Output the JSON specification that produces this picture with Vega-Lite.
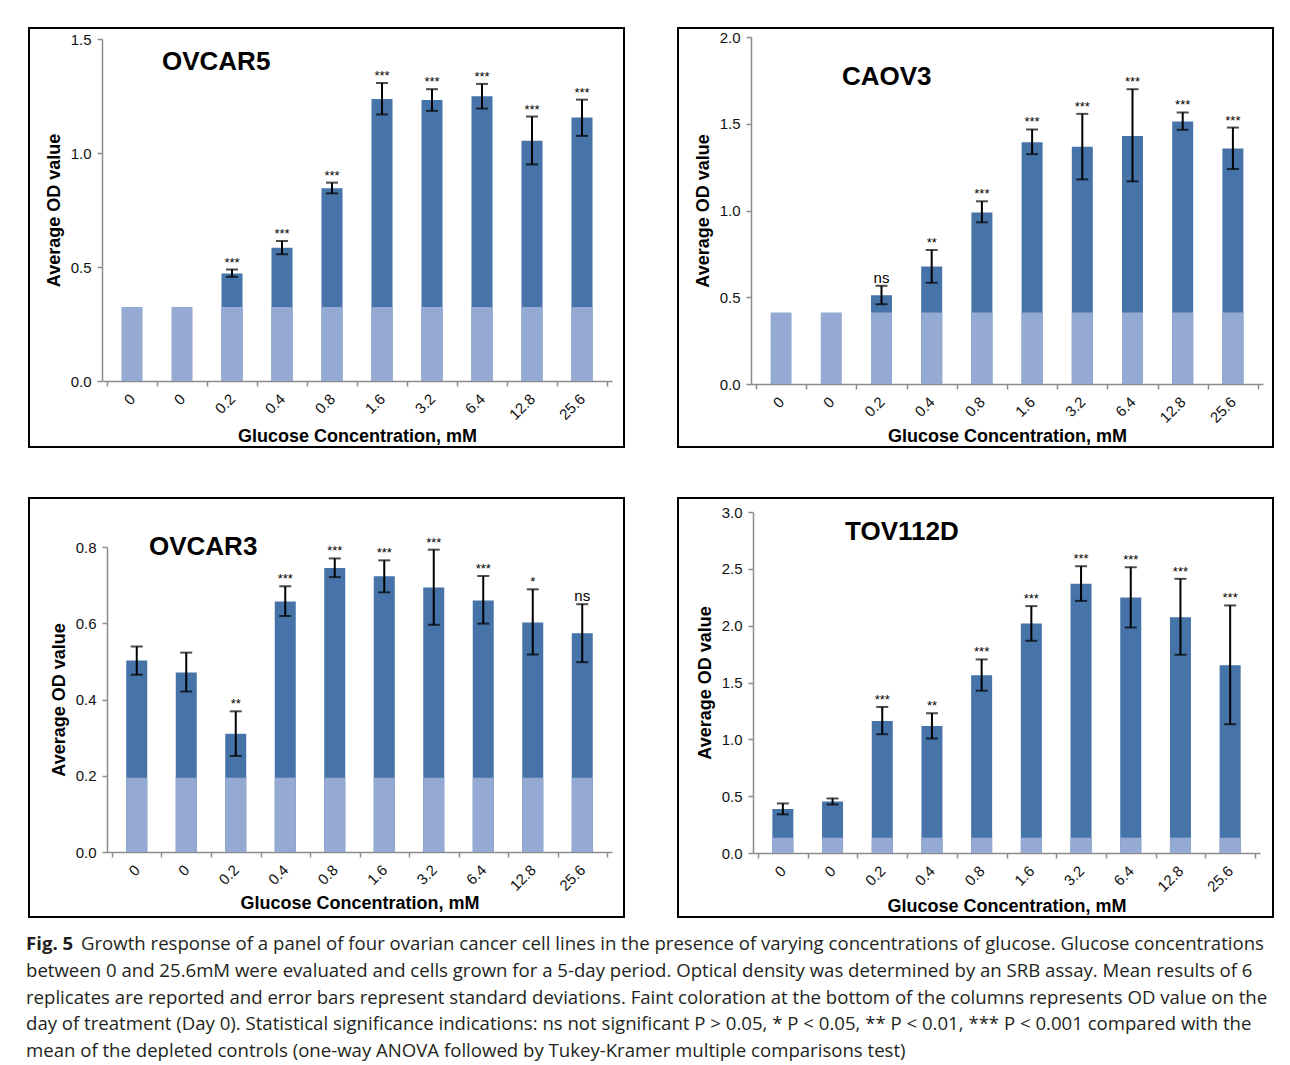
{
  "$schema": "https://vega.github.io/schema/vega-lite/v6.json",
  "padding": {"left": 26, "top": 27, "right": 0, "bottom": 0},
  "background": "white",
  "config": {
    "view": {"stroke": "black", "strokeWidth": 2},
    "font": "Liberation Sans",
    "title": {"font": "Liberation Sans", "fontSize": 26, "fontWeight": "bold", "color": "black", "anchor": "start", "frame": "group", "offset": 0, "baseline": "middle"}
  },
  "datasets": {
    "ovcar5": [
      {"idx": 1, "conc": "0", "mean": null, "lo": null, "hi": null, "day0": 0.325, "sig": ""},
      {"idx": 2, "conc": "0", "mean": null, "lo": null, "hi": null, "day0": 0.325, "sig": ""},
      {"idx": 3, "conc": "0.2", "mean": 0.471, "lo": 0.457, "hi": 0.489, "day0": 0.325, "sig": "***"},
      {"idx": 4, "conc": "0.4", "mean": 0.584, "lo": 0.556, "hi": 0.614, "day0": 0.325, "sig": "***"},
      {"idx": 5, "conc": "0.8", "mean": 0.845, "lo": 0.823, "hi": 0.870, "day0": 0.325, "sig": "***"},
      {"idx": 6, "conc": "1.6", "mean": 1.237, "lo": 1.169, "hi": 1.307, "day0": 0.325, "sig": "***"},
      {"idx": 7, "conc": "3.2", "mean": 1.233, "lo": 1.185, "hi": 1.280, "day0": 0.325, "sig": "***"},
      {"idx": 8, "conc": "6.4", "mean": 1.249, "lo": 1.195, "hi": 1.303, "day0": 0.325, "sig": "***"},
      {"idx": 9, "conc": "12.8", "mean": 1.054, "lo": 0.950, "hi": 1.160, "day0": 0.325, "sig": "***"},
      {"idx": 10, "conc": "25.6", "mean": 1.156, "lo": 1.075, "hi": 1.234, "day0": 0.325, "sig": "***"}
    ],
    "caov3": [
      {"idx": 1, "conc": "0", "mean": null, "lo": null, "hi": null, "day0": 0.412, "sig": ""},
      {"idx": 2, "conc": "0", "mean": null, "lo": null, "hi": null, "day0": 0.412, "sig": ""},
      {"idx": 3, "conc": "0.2", "mean": 0.512, "lo": 0.460, "hi": 0.566, "day0": 0.412, "sig": "ns"},
      {"idx": 4, "conc": "0.4", "mean": 0.677, "lo": 0.583, "hi": 0.773, "day0": 0.412, "sig": "**"},
      {"idx": 5, "conc": "0.8", "mean": 0.989, "lo": 0.932, "hi": 1.053, "day0": 0.412, "sig": "***"},
      {"idx": 6, "conc": "1.6", "mean": 1.394, "lo": 1.325, "hi": 1.467, "day0": 0.412, "sig": "***"},
      {"idx": 7, "conc": "3.2", "mean": 1.367, "lo": 1.179, "hi": 1.557, "day0": 0.412, "sig": "***"},
      {"idx": 8, "conc": "6.4", "mean": 1.430, "lo": 1.168, "hi": 1.699, "day0": 0.412, "sig": "***"},
      {"idx": 9, "conc": "12.8", "mean": 1.513, "lo": 1.465, "hi": 1.565, "day0": 0.412, "sig": "***"},
      {"idx": 10, "conc": "25.6", "mean": 1.358, "lo": 1.239, "hi": 1.478, "day0": 0.412, "sig": "***"}
    ],
    "ovcar3": [
      {"idx": 1, "conc": "0", "mean": 0.502, "lo": 0.465, "hi": 0.539, "day0": 0.195, "sig": ""},
      {"idx": 2, "conc": "0", "mean": 0.471, "lo": 0.421, "hi": 0.523, "day0": 0.195, "sig": ""},
      {"idx": 3, "conc": "0.2", "mean": 0.310, "lo": 0.252, "hi": 0.369, "day0": 0.195, "sig": "**"},
      {"idx": 4, "conc": "0.4", "mean": 0.657, "lo": 0.619, "hi": 0.697, "day0": 0.195, "sig": "***"},
      {"idx": 5, "conc": "0.8", "mean": 0.745, "lo": 0.721, "hi": 0.770, "day0": 0.195, "sig": "***"},
      {"idx": 6, "conc": "1.6", "mean": 0.723, "lo": 0.681, "hi": 0.765, "day0": 0.195, "sig": "***"},
      {"idx": 7, "conc": "3.2", "mean": 0.694, "lo": 0.596, "hi": 0.793, "day0": 0.195, "sig": "***"},
      {"idx": 8, "conc": "6.4", "mean": 0.660, "lo": 0.599, "hi": 0.724, "day0": 0.195, "sig": "***"},
      {"idx": 9, "conc": "12.8", "mean": 0.602, "lo": 0.518, "hi": 0.689, "day0": 0.195, "sig": "*"},
      {"idx": 10, "conc": "25.6", "mean": 0.574, "lo": 0.498, "hi": 0.650, "day0": 0.195, "sig": "ns"}
    ],
    "tov112d": [
      {"idx": 1, "conc": "0", "mean": 0.386, "lo": 0.340, "hi": 0.436, "day0": 0.135, "sig": ""},
      {"idx": 2, "conc": "0", "mean": 0.454, "lo": 0.427, "hi": 0.480, "day0": 0.135, "sig": ""},
      {"idx": 3, "conc": "0.2", "mean": 1.162, "lo": 1.045, "hi": 1.285, "day0": 0.135, "sig": "***"},
      {"idx": 4, "conc": "0.4", "mean": 1.118, "lo": 1.007, "hi": 1.229, "day0": 0.135, "sig": "**"},
      {"idx": 5, "conc": "0.8", "mean": 1.563, "lo": 1.428, "hi": 1.703, "day0": 0.135, "sig": "***"},
      {"idx": 6, "conc": "1.6", "mean": 2.020, "lo": 1.867, "hi": 2.172, "day0": 0.135, "sig": "***"},
      {"idx": 7, "conc": "3.2", "mean": 2.368, "lo": 2.218, "hi": 2.523, "day0": 0.135, "sig": "***"},
      {"idx": 8, "conc": "6.4", "mean": 2.248, "lo": 1.984, "hi": 2.514, "day0": 0.135, "sig": "***"},
      {"idx": 9, "conc": "12.8", "mean": 2.075, "lo": 1.744, "hi": 2.412, "day0": 0.135, "sig": "***"},
      {"idx": 10, "conc": "25.6", "mean": 1.651, "lo": 1.133, "hi": 2.178, "day0": 0.135, "sig": "***"}
    ],
    "caption": [
      {"line": 1, "lead": "Fig. 5", "text": "Growth response of a panel of four ovarian cancer cell lines in the presence of varying concentrations of glucose. Glucose concentrations"},
      {"line": 2, "lead": "", "text": "between 0 and 25.6mM were evaluated and cells grown for a 5-day period. Optical density was determined by an SRB assay. Mean results of 6"},
      {"line": 3, "lead": "", "text": "replicates are reported and error bars represent standard deviations. Faint coloration at the bottom of the columns represents OD value on the"},
      {"line": 4, "lead": "", "text": "day of treatment (Day 0). Statistical significance indications: ns not significant P > 0.05, * P < 0.05, ** P < 0.01, *** P < 0.001 compared with the"},
      {"line": 5, "lead": "", "text": "mean of the depleted controls (one-way ANOVA followed by Tukey-Kramer multiple comparisons test)"}
    ]
  },
  "vconcat": [
    {
      "spacing": 49,
      "vconcat": [
        {
          "spacing": 52,
          "hconcat": [
            {
              "width": 595, "height": 419,
              "title": {"text": "OVCAR5", "dx": 133, "dy": 51},
              "data": {"name": "ovcar5"},
              "encoding": {
                "x": {"field": "idx", "type": "quantitative", "title": "Glucose Concentration, mM",
                  "scale": {"domain": [0.5, 10.5], "range": [73, 583], "nice": false, "zero": false},
                  "axis": {"values": [0.5, 1, 1.5, 2, 2.5, 3, 3.5, 4, 4.5, 5, 5.5, 6, 6.5, 7, 7.5, 8, 8.5, 9, 9.5, 10, 10.5],
                    "labelExpr": "datum.value % 1 === 0 ? ['0','0','0.2','0.4','0.8','1.6','3.2','6.4','12.8','25.6'][datum.value - 1] : ''",
                    "tickOpacity": {"condition": {"test": "datum.value % 1 === 0", "value": 0}, "value": 1},
                    "offset": -66, "grid": false, "labelAngle": -45, "labelAlign": "right", "labelBaseline": "middle",
                    "labelFlush": false, "labelOverlap": false, "labelBound": false,
                    "labelFont": "Liberation Sans", "labelFontSize": 15, "labelColor": "#111111", "labelPadding": 10,
                    "tickSize": 5, "tickColor": "#8c8c8c", "tickWidth": 1.5, "domainColor": "#8c8c8c", "domainWidth": 1.5,
                    "titleFont": "Liberation Sans", "titleFontSize": 18, "titleFontWeight": "bold", "titleColor": "black", "titlePadding": 5}}
              },
              "layer": [
                {"mark": {"type": "bar", "width": 21, "color": "#4673A8"},
                 "encoding": {"y": {"field": "mean", "type": "quantitative", "title": "Average OD value",
                   "scale": {"domain": [0, 1.5], "range": [353, 11], "nice": false, "zero": true},
                   "axis": {"values": [0, 0.5, 1, 1.5], "format": ".1f", "offset": -73, "grid": false, "labelFlush": false,
                     "domainColor": "#8c8c8c", "domainWidth": 1.5, "tickColor": "#8c8c8c", "tickWidth": 1.5, "tickSize": 5,
                     "labelFont": "Liberation Sans", "labelFontSize": 15, "labelColor": "#111111", "labelPadding": 6,
                     "titleFont": "Liberation Sans", "titleFontSize": 18, "titleFontWeight": "bold", "titleColor": "black", "titlePadding": 7}}}},
                {"mark": {"type": "bar", "width": 21, "color": "#95AAD2"},
                 "encoding": {"y": {"field": "day0", "type": "quantitative", "title": "Average OD value"}}},
                {"transform": [{"filter": "datum.hi != null"}], "mark": {"type": "rule", "color": "black", "strokeWidth": 2},
                 "encoding": {"y": {"field": "lo", "type": "quantitative", "title": "Average OD value"}, "y2": {"field": "hi"}}},
                {"transform": [{"filter": "datum.hi != null"}], "mark": {"type": "tick", "orient": "horizontal", "size": 12, "thickness": 2, "color": "black"},
                 "encoding": {"y": {"field": "lo", "type": "quantitative", "title": "Average OD value"}}},
                {"transform": [{"filter": "datum.hi != null"}], "mark": {"type": "tick", "orient": "horizontal", "size": 12, "thickness": 2, "color": "black"},
                 "encoding": {"y": {"field": "hi", "type": "quantitative", "title": "Average OD value"}}},
                {"transform": [{"filter": "datum.hi != null"}], "mark": {"type": "text", "baseline": "alphabetic", "dy": -3, "color": "black", "font": "Liberation Sans"},
                 "encoding": {"y": {"field": "hi", "type": "quantitative", "title": "Average OD value"}, "text": {"field": "sig"},
                   "size": {"condition": {"test": "datum.sig === 'ns'", "value": 15}, "value": 13}}}
              ]
            },
            {
              "width": 595, "height": 419,
              "title": {"text": "CAOV3", "dx": 164, "dy": 66},
              "data": {"name": "caov3"},
              "encoding": {
                "x": {"field": "idx", "type": "quantitative", "title": "Glucose Concentration, mM",
                  "scale": {"domain": [0.5, 10.5], "range": [73, 585], "nice": false, "zero": false},
                  "axis": {"values": [0.5, 1, 1.5, 2, 2.5, 3, 3.5, 4, 4.5, 5, 5.5, 6, 6.5, 7, 7.5, 8, 8.5, 9, 9.5, 10, 10.5],
                    "labelExpr": "datum.value % 1 === 0 ? ['0','0','0.2','0.4','0.8','1.6','3.2','6.4','12.8','25.6'][datum.value - 1] : ''",
                    "tickOpacity": {"condition": {"test": "datum.value % 1 === 0", "value": 0}, "value": 1},
                    "offset": -63, "grid": false, "labelAngle": -45, "labelAlign": "right", "labelBaseline": "middle",
                    "labelFlush": false, "labelOverlap": false, "labelBound": false,
                    "labelFont": "Liberation Sans", "labelFontSize": 15, "labelColor": "#111111", "labelPadding": 10,
                    "tickSize": 5, "tickColor": "#8c8c8c", "tickWidth": 1.5, "domainColor": "#8c8c8c", "domainWidth": 1.5,
                    "titleFont": "Liberation Sans", "titleFontSize": 18, "titleFontWeight": "bold", "titleColor": "black", "titlePadding": 2}}
              },
              "layer": [
                {"mark": {"type": "bar", "width": 21, "color": "#4673A8"},
                 "encoding": {"y": {"field": "mean", "type": "quantitative", "title": "Average OD value",
                   "scale": {"domain": [0, 2], "range": [356, 9], "nice": false, "zero": true},
                   "axis": {"values": [0, 0.5, 1, 1.5, 2], "format": ".1f", "offset": -73, "grid": false, "labelFlush": false,
                     "domainColor": "#8c8c8c", "domainWidth": 1.5, "tickColor": "#8c8c8c", "tickWidth": 1.5, "tickSize": 5,
                     "labelFont": "Liberation Sans", "labelFontSize": 15, "labelColor": "#111111", "labelPadding": 6,
                     "titleFont": "Liberation Sans", "titleFontSize": 18, "titleFontWeight": "bold", "titleColor": "black", "titlePadding": 7}}}},
                {"mark": {"type": "bar", "width": 21, "color": "#95AAD2"},
                 "encoding": {"y": {"field": "day0", "type": "quantitative", "title": "Average OD value"}}},
                {"transform": [{"filter": "datum.hi != null"}], "mark": {"type": "rule", "color": "black", "strokeWidth": 2},
                 "encoding": {"y": {"field": "lo", "type": "quantitative", "title": "Average OD value"}, "y2": {"field": "hi"}}},
                {"transform": [{"filter": "datum.hi != null"}], "mark": {"type": "tick", "orient": "horizontal", "size": 12, "thickness": 2, "color": "black"},
                 "encoding": {"y": {"field": "lo", "type": "quantitative", "title": "Average OD value"}}},
                {"transform": [{"filter": "datum.hi != null"}], "mark": {"type": "tick", "orient": "horizontal", "size": 12, "thickness": 2, "color": "black"},
                 "encoding": {"y": {"field": "hi", "type": "quantitative", "title": "Average OD value"}}},
                {"transform": [{"filter": "datum.hi != null"}], "mark": {"type": "text", "baseline": "alphabetic", "dy": -3, "color": "black", "font": "Liberation Sans"},
                 "encoding": {"y": {"field": "hi", "type": "quantitative", "title": "Average OD value"}, "text": {"field": "sig"},
                   "size": {"condition": {"test": "datum.sig === 'ns'", "value": 15}, "value": 13}}}
              ]
            }
          ]
        },
        {
          "spacing": 52,
          "hconcat": [
            {
              "width": 595, "height": 419,
              "title": {"text": "OVCAR3", "dx": 120, "dy": 66},
              "data": {"name": "ovcar3"},
              "encoding": {
                "x": {"field": "idx", "type": "quantitative", "title": "Glucose Concentration, mM",
                  "scale": {"domain": [0.5, 10.5], "range": [78, 583], "nice": false, "zero": false},
                  "axis": {"values": [0.5, 1, 1.5, 2, 2.5, 3, 3.5, 4, 4.5, 5, 5.5, 6, 6.5, 7, 7.5, 8, 8.5, 9, 9.5, 10, 10.5],
                    "labelExpr": "datum.value % 1 === 0 ? ['0','0','0.2','0.4','0.8','1.6','3.2','6.4','12.8','25.6'][datum.value - 1] : ''",
                    "tickOpacity": {"condition": {"test": "datum.value % 1 === 0", "value": 0}, "value": 1},
                    "offset": -65, "grid": false, "labelAngle": -45, "labelAlign": "right", "labelBaseline": "middle",
                    "labelFlush": false, "labelOverlap": false, "labelBound": false,
                    "labelFont": "Liberation Sans", "labelFontSize": 15, "labelColor": "#111111", "labelPadding": 10,
                    "tickSize": 5, "tickColor": "#8c8c8c", "tickWidth": 1.5, "domainColor": "#8c8c8c", "domainWidth": 1.5,
                    "titleFont": "Liberation Sans", "titleFontSize": 18, "titleFontWeight": "bold", "titleColor": "black", "titlePadding": 1}}
              },
              "layer": [
                {"mark": {"type": "bar", "width": 21, "color": "#4673A8"},
                 "encoding": {"y": {"field": "mean", "type": "quantitative", "title": "Average OD value",
                   "scale": {"domain": [0, 0.8], "range": [354, 49], "nice": false, "zero": true},
                   "axis": {"values": [0, 0.2, 0.4, 0.6, 0.8], "format": ".1f", "offset": -78, "grid": false, "labelFlush": false,
                     "domainColor": "#8c8c8c", "domainWidth": 1.5, "tickColor": "#8c8c8c", "tickWidth": 1.5, "tickSize": 5,
                     "labelFont": "Liberation Sans", "labelFontSize": 15, "labelColor": "#111111", "labelPadding": 6,
                     "titleFont": "Liberation Sans", "titleFontSize": 18, "titleFontWeight": "bold", "titleColor": "black", "titlePadding": 7}}}},
                {"mark": {"type": "bar", "width": 21, "color": "#95AAD2"},
                 "encoding": {"y": {"field": "day0", "type": "quantitative", "title": "Average OD value"}}},
                {"transform": [{"filter": "datum.hi != null"}], "mark": {"type": "rule", "color": "black", "strokeWidth": 2},
                 "encoding": {"y": {"field": "lo", "type": "quantitative", "title": "Average OD value"}, "y2": {"field": "hi"}}},
                {"transform": [{"filter": "datum.hi != null"}], "mark": {"type": "tick", "orient": "horizontal", "size": 12, "thickness": 2, "color": "black"},
                 "encoding": {"y": {"field": "lo", "type": "quantitative", "title": "Average OD value"}}},
                {"transform": [{"filter": "datum.hi != null"}], "mark": {"type": "tick", "orient": "horizontal", "size": 12, "thickness": 2, "color": "black"},
                 "encoding": {"y": {"field": "hi", "type": "quantitative", "title": "Average OD value"}}},
                {"transform": [{"filter": "datum.hi != null"}], "mark": {"type": "text", "baseline": "alphabetic", "dy": -3, "color": "black", "font": "Liberation Sans"},
                 "encoding": {"y": {"field": "hi", "type": "quantitative", "title": "Average OD value"}, "text": {"field": "sig"},
                   "size": {"condition": {"test": "datum.sig === 'ns'", "value": 15}, "value": 13}}}
              ]
            },
            {
              "width": 595, "height": 419,
              "title": {"text": "TOV112D", "dx": 167, "dy": 51},
              "data": {"name": "tov112d"},
              "encoding": {
                "x": {"field": "idx", "type": "quantitative", "title": "Glucose Concentration, mM",
                  "scale": {"domain": [0.5, 10.5], "range": [75, 582], "nice": false, "zero": false},
                  "axis": {"values": [0.5, 1, 1.5, 2, 2.5, 3, 3.5, 4, 4.5, 5, 5.5, 6, 6.5, 7, 7.5, 8, 8.5, 9, 9.5, 10, 10.5],
                    "labelExpr": "datum.value % 1 === 0 ? ['0','0','0.2','0.4','0.8','1.6','3.2','6.4','12.8','25.6'][datum.value - 1] : ''",
                    "tickOpacity": {"condition": {"test": "datum.value % 1 === 0", "value": 0}, "value": 1},
                    "offset": -64, "grid": false, "labelAngle": -45, "labelAlign": "right", "labelBaseline": "middle",
                    "labelFlush": false, "labelOverlap": false, "labelBound": false,
                    "labelFont": "Liberation Sans", "labelFontSize": 15, "labelColor": "#111111", "labelPadding": 10,
                    "tickSize": 5, "tickColor": "#8c8c8c", "tickWidth": 1.5, "domainColor": "#8c8c8c", "domainWidth": 1.5,
                    "titleFont": "Liberation Sans", "titleFontSize": 18, "titleFontWeight": "bold", "titleColor": "black", "titlePadding": 3}}
              },
              "layer": [
                {"mark": {"type": "bar", "width": 21, "color": "#4673A8"},
                 "encoding": {"y": {"field": "mean", "type": "quantitative", "title": "Average OD value",
                   "scale": {"domain": [0, 3], "range": [355, 14], "nice": false, "zero": true},
                   "axis": {"values": [0, 0.5, 1, 1.5, 2, 2.5, 3], "format": ".1f", "offset": -75, "grid": false, "labelFlush": false,
                     "domainColor": "#8c8c8c", "domainWidth": 1.5, "tickColor": "#8c8c8c", "tickWidth": 1.5, "tickSize": 5,
                     "labelFont": "Liberation Sans", "labelFontSize": 15, "labelColor": "#111111", "labelPadding": 6,
                     "titleFont": "Liberation Sans", "titleFontSize": 18, "titleFontWeight": "bold", "titleColor": "black", "titlePadding": 7}}}},
                {"mark": {"type": "bar", "width": 21, "color": "#95AAD2"},
                 "encoding": {"y": {"field": "day0", "type": "quantitative", "title": "Average OD value"}}},
                {"transform": [{"filter": "datum.hi != null"}], "mark": {"type": "rule", "color": "black", "strokeWidth": 2},
                 "encoding": {"y": {"field": "lo", "type": "quantitative", "title": "Average OD value"}, "y2": {"field": "hi"}}},
                {"transform": [{"filter": "datum.hi != null"}], "mark": {"type": "tick", "orient": "horizontal", "size": 12, "thickness": 2, "color": "black"},
                 "encoding": {"y": {"field": "lo", "type": "quantitative", "title": "Average OD value"}}},
                {"transform": [{"filter": "datum.hi != null"}], "mark": {"type": "tick", "orient": "horizontal", "size": 12, "thickness": 2, "color": "black"},
                 "encoding": {"y": {"field": "hi", "type": "quantitative", "title": "Average OD value"}}},
                {"transform": [{"filter": "datum.hi != null"}], "mark": {"type": "text", "baseline": "alphabetic", "dy": -3, "color": "black", "font": "Liberation Sans"},
                 "encoding": {"y": {"field": "hi", "type": "quantitative", "title": "Average OD value"}, "text": {"field": "sig"},
                   "size": {"condition": {"test": "datum.sig === 'ns'", "value": 15}, "value": 13}}}
              ]
            }
          ]
        }
      ]
    },
    {
      "width": 1240, "height": 133,
      "view": {"stroke": null},
      "data": {"name": "caption"},
      "encoding": {
        "x": {"datum": 0, "type": "quantitative", "scale": {"domain": [0, 1]}, "axis": null},
        "y": {"field": "line", "type": "quantitative", "scale": {"domain": [0.5, 5.5], "reverse": true, "nice": false, "zero": false}, "axis": null}
      },
      "layer": [
        {"transform": [{"filter": "datum.line === 1"}],
         "mark": {"type": "text", "align": "left", "baseline": "middle", "font": "Open Sans", "fontSize": 18.6, "fontWeight": "bold", "dx": -3, "color": "#231f20"},
         "encoding": {"text": {"field": "lead"}}},
        {"transform": [{"filter": "datum.line === 1"}],
         "mark": {"type": "text", "align": "left", "baseline": "middle", "font": "Open Sans", "fontSize": 18.6, "dx": 52, "color": "#231f20"},
         "encoding": {"text": {"field": "text"}}},
        {"transform": [{"filter": "datum.line > 1"}],
         "mark": {"type": "text", "align": "left", "baseline": "middle", "font": "Open Sans", "fontSize": 18.6, "dx": -3, "color": "#231f20"},
         "encoding": {"text": {"field": "text"}}}
      ]
    }
  ],
  "spacing": 13
}
